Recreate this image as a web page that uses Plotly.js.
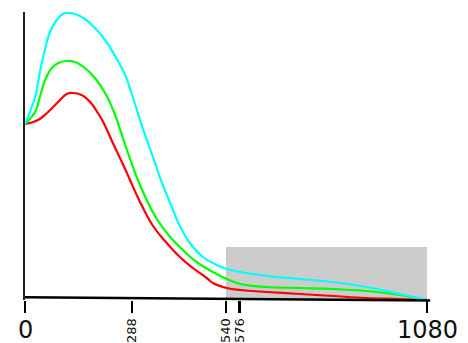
<!DOCTYPE html>
<html>
<head>
<meta charset="utf-8">
<script src="https://cdn.plot.ly/plotly-3.0.1.min.js"></script>
<style>
  html, body { margin: 0; padding: 0; background: #ffffff; }
  #chart { width: 468px; height: 343px; }
</style>
</head>
<body>
<div id="chart"></div>
<script>
// Three density-like profiles over a 0..1080 span
const cyanX  = [0, 27, 40, 54, 67, 85, 102, 116, 134, 161, 188, 215, 242, 269, 286, 317, 336, 354, 363, 390, 416, 443, 478, 515, 542, 578, 649, 739, 827, 918, 1007, 1080];
const cyanY  = [176, 203, 228, 251, 268, 280, 286, 287, 286, 281, 272, 260, 244, 225, 207, 171, 151, 132, 122, 97, 74, 57, 43, 35, 31, 28, 24, 21, 18, 13, 6, 0];

const greenX = [0, 27, 40, 54, 72, 89, 112, 134, 161, 188, 215, 239, 263, 273, 290, 300, 327, 354, 390, 424, 461, 505, 542, 578, 649, 739, 827, 918, 1007, 1080];
const greenY = [176, 188, 203, 220, 232, 237, 239, 238, 232, 222, 207, 188, 162, 151, 133, 123, 100, 81, 63, 50, 38, 28, 21, 16, 13, 12, 11, 9, 5, 0];

const redX   = [0, 35, 62, 89, 112, 129, 152, 175, 196, 210, 236, 269, 282, 309, 344, 381, 416, 451, 488, 505, 542, 578, 649, 739, 827, 918, 1007, 1080];
const redY   = [176, 180, 188, 198, 206, 207, 205, 198, 187, 178, 157, 131, 120, 98, 74, 57, 43, 32, 22, 17, 12, 10, 8, 6, 4, 2, 1, 0];

// Highlighted window and axis ticks
const bandX = [540, 1080];
const bandTop = 53;
const xTicks = [0, 288, 540, 576, 1080];
const bigTicks = [0, 1080];

const FONT = 'DejaVu Sans, sans-serif';

const traces = [
  { x: redX,   y: redY,   color: '#ff0000' },
  { x: greenX, y: greenY, color: '#00ff00' },
  { x: cyanX,  y: cyanY,  color: '#00ffff' }
].map(s => ({
  x: s.x, y: s.y, type: 'scatter', mode: 'lines',
  line: { color: s.color, width: 2.2, shape: 'spline', smoothing: 1.2 },
  hoverinfo: 'skip', cliponaxis: false
}));

const layout = {
  width: 468, height: 343,
  margin: { l: 25, r: 41, t: 12, b: 43 },
  paper_bgcolor: '#ffffff', plot_bgcolor: '#ffffff',
  showlegend: false,
  font: { family: FONT, color: '#000000' },
  xaxis: {
    range: [0, 1080], showgrid: false, zeroline: false, showline: false,
    tickvals: xTicks,
    ticktext: xTicks.map(v => bigTicks.includes(v) ? '' : String(v)),
    ticks: 'outside', ticklen: 12, tickwidth: 2.5, tickcolor: '#000000',
    tickangle: -90, tickfont: { family: FONT, size: 13, color: '#111111' },
    fixedrange: true
  },
  yaxis: {
    range: [0, 288], showgrid: false, zeroline: false,
    showline: true, linecolor: '#222222', linewidth: 2.5,
    showticklabels: false, ticks: '', fixedrange: true
  },
  shapes: [
    { type: 'rect', layer: 'below', xref: 'x', yref: 'y',
      x0: bandX[0], x1: bandX[1], y0: 0, y1: bandTop,
      fillcolor: '#cccccc', line: { width: 0 } },
    // baseline, drawn with a slight tilt
    { type: 'line', xref: 'paper', yref: 'paper',
      x0: 0, y0: 0.0094, x1: 1.008, y1: -0.0017,
      line: { color: '#000000', width: 2.5 } }
  ],
  annotations: bigTicks.map(v => ({
    x: v, xref: 'x', y: 0, yref: 'paper', yshift: -14,
    xanchor: 'center', yanchor: 'top', showarrow: false,
    text: String(v), font: { family: FONT, size: 24, color: '#111111' }
  }))
};

Plotly.newPlot('chart', traces, layout, { displayModeBar: false, staticPlot: true });
</script>
</body>
</html>
